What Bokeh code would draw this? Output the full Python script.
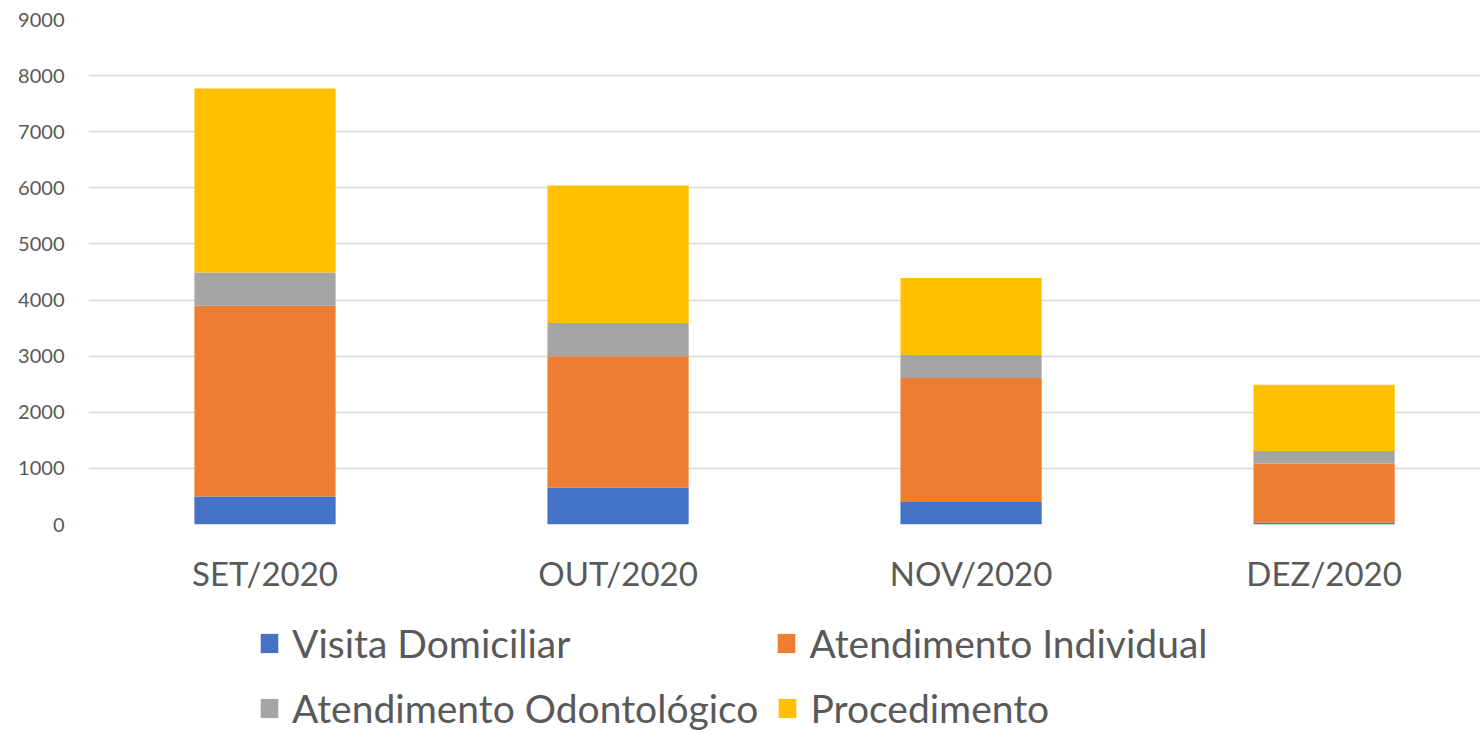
from bokeh.plotting import figure
from bokeh.layouts import column
from bokeh.models import Range1d, FixedTicker, Legend, LegendItem
from bokeh.embed import file_html
from bokeh.resources import INLINE
import numpy as np

# ---- data ----
months = ["SET/2020", "OUT/2020", "NOV/2020", "DEZ/2020"]
series = ["Visita Domiciliar", "Atendimento Individual", "Atendimento Odontológico", "Procedimento"]
visita = [500, 655, 400, 30]
individual = [3400, 2345, 2210, 1055]
odonto = [590, 590, 410, 225]
procedimento = [3280, 2450, 1375, 1180]
y_ticks = [0, 1000, 2000, 3000, 4000, 5000, 6000, 7000, 8000, 9000]

colors = ["#4472C4", "#ED7D31", "#A5A5A5", "#FFC000"]
FONT = "Lato"
TXT = "#595959"

xpos = list(np.arange(len(months)) + 0.5)
data = {"x": xpos, "v": visita, "i": individual, "o": odonto, "p": procedimento}

p = figure(width=1480, height=600, output_backend="svg", toolbar_location=None,
           x_range=Range1d(0, 3.943), y_range=Range1d(0, 9000),
           min_border_left=88, min_border_right=0, min_border_top=19, min_border_bottom=76)
p.outline_line_color = None

rs = p.vbar_stack(["v", "i", "o", "p"], x="x", width=0.4, source=data,
                  color=colors, line_color=None)

# axes
p.xaxis.ticker = FixedTicker(ticks=xpos)
p.xaxis.major_label_overrides = {float(x): m for x, m in zip(xpos, months)}
p.xaxis.major_label_text_font = FONT
p.xaxis.major_label_text_font_size = "33px"
p.xaxis.major_label_text_color = TXT
p.xaxis.major_label_standoff = 22
p.xaxis.axis_line_color = None
p.xaxis.major_tick_line_color = None
p.xaxis.minor_tick_line_color = None

p.yaxis.ticker = FixedTicker(ticks=y_ticks)
p.yaxis.major_label_text_font = FONT
p.yaxis.major_label_text_font_size = "20px"
p.yaxis.major_label_text_color = TXT
p.yaxis.major_label_standoff = 18
p.yaxis.axis_line_color = None
p.yaxis.major_tick_line_color = None
p.yaxis.minor_tick_line_color = None

p.xgrid.grid_line_color = None
p.ygrid.ticker = FixedTicker(ticks=y_ticks)
p.ygrid.grid_line_color = "#D9D9D9"
p.ygrid.grid_line_width = 1.5

# ---- legend strip (below the chart) ----
lg = figure(width=1480, height=132, output_backend="svg", toolbar_location=None,
            x_range=Range1d(0, 1), y_range=Range1d(0, 1),
            x_axis_location=None, y_axis_location=None,
            min_border_left=0, min_border_right=0, min_border_top=0, min_border_bottom=0)
lg.grid.visible = False
lg.outline_line_color = None
# zero-size legend keys (one per series colour)
swatches = [lg.vbar(x=[0.5], top=[0], width=0, color=c, line_color=None) for c in colors]

common = dict(orientation="horizontal",
              label_text_font=FONT, label_text_font_size="39px", label_text_color=TXT,
              glyph_width=22, glyph_height=24, label_standoff=12,
              border_line_color=None, background_fill_alpha=0, padding=0, margin=0)
items = [LegendItem(label=s, renderers=[r]) for s, r in zip(series, swatches)]
leg1 = Legend(items=items[:2], spacing=205, location=(170, 66), **common)
leg2 = Legend(items=items[2:], spacing=18, location=(170, 1), **common)
lg.add_layout(leg1, "center")
lg.add_layout(leg2, "center")

layout = column(p, lg, spacing=0)
open("out.html", "w").write(file_html(layout, INLINE))
